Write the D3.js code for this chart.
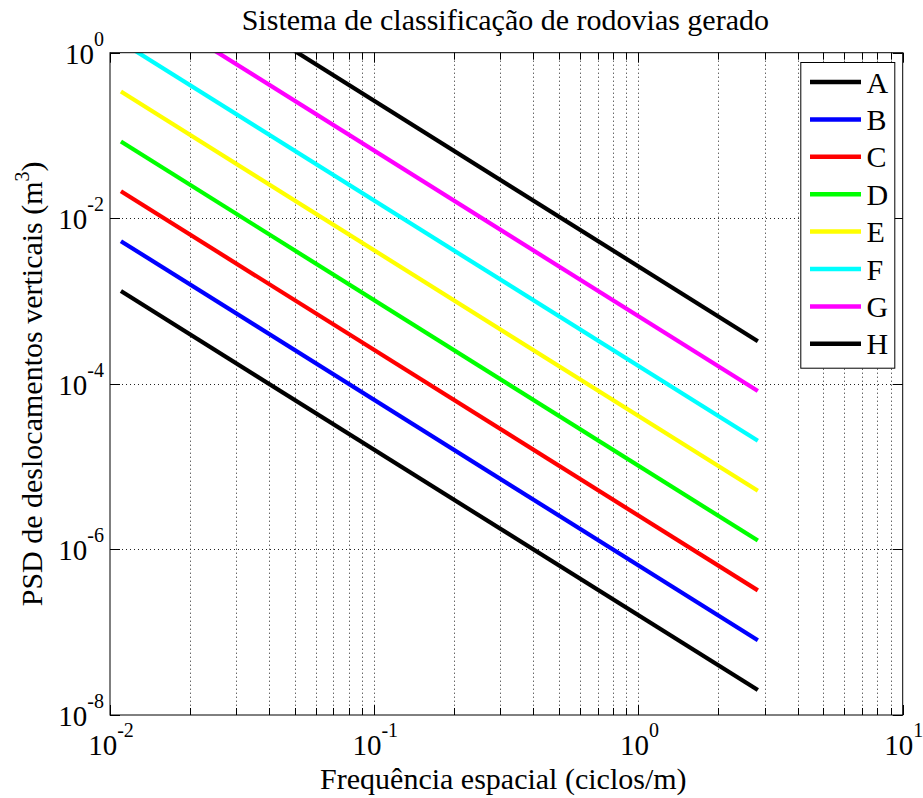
<!DOCTYPE html>
<html>
<head>
<meta charset="utf-8">
<script src="https://cdn.jsdelivr.net/npm/d3@7"></script>
<style>
  html, body { margin: 0; padding: 0; background: #fff; }
</style>
</head>
<body>
<svg id="chart" width="923" height="798" font-family="'Liberation Serif', 'Times New Roman', Times, 'DejaVu Serif', serif"></svg>
<script>
// Road roughness classes (ISO 8608): vertical displacement PSD over spatial frequency
const classes = ["A", "B", "C", "D", "E", "F", "G", "H"];
const classColors = ["#000000", "#0000ff", "#ff0000", "#00ff00", "#ffff00", "#00ffff", "#ff00ff", "#000000"];

// spatial frequency range of every class line (cycles/m)
const freqRange = [0.011, 2.83];

// PSD (m^3) at the start and end of the frequency range, one pair per class
const psdA = [1.32e-3, 2.0e-8];
const psdB = [5.29e-3, 8.0e-8];
const psdC = [2.12e-2, 3.2e-7];
const psdD = [8.46e-2, 1.28e-6];
const psdE = [0.339, 5.11e-6];
const psdF = [1.35, 2.05e-5];
const psdG = [5.42, 8.18e-5];
const psdH = [21.7, 3.27e-4];
const psdSeries = [psdA, psdB, psdC, psdD, psdE, psdF, psdG, psdH];

// axis ticks (powers of ten)
const xTickExponents = [-2, -1, 0, 1];
const yTickExponents = [0, -2, -4, -6, -8];
const minorMultipliers = [2, 3, 4, 5, 6, 7, 8, 9];

const titleText = "Sistema de classificação de rodovias gerado";
const xLabelText = "Frequência espacial (ciclos/m)";
const yLabelText = "PSD de deslocamentos verticais (m";

const svg = d3.select("#chart");
const plot = { left: 110, right: 902.7, top: 52.7, bottom: 715 };
const fontMain = 30, fontTick = 29, fontSup = 20;

const x = d3.scaleLog().domain([1e-2, 1e1]).range([plot.left, plot.right]);
const y = d3.scaleLog().domain([1e-8, 1e0]).range([plot.bottom, plot.top]);

const majorX = xTickExponents.map(e => Math.pow(10, e));
const minorX = [];
xTickExponents.slice(0, -1).forEach(e => minorMultipliers.forEach(m => minorX.push(m * Math.pow(10, e))));
const majorY = yTickExponents.map(e => Math.pow(10, e));

// clip region for the axes interior
svg.append("defs").append("clipPath").attr("id", "plot-clip")
  .append("rect")
  .attr("x", plot.left).attr("y", plot.top)
  .attr("width", plot.right - plot.left).attr("height", plot.bottom - plot.top);

// dotted grid
const grid = svg.append("g").attr("stroke", "#222").attr("stroke-width", 1)
  .attr("stroke-dasharray", "1,3").attr("fill", "none");
grid.selectAll("line.gx").data(majorX.concat(minorX).filter(v => v > 1e-2 && v < 1e1)).join("line")
  .attr("class", "gx")
  .attr("x1", d => Math.round(x(d)) + 0.5).attr("x2", d => Math.round(x(d)) + 0.5)
  .attr("y1", plot.top).attr("y2", plot.bottom);
grid.selectAll("line.gy").data(majorY.filter(v => v > 1e-8 && v < 1)).join("line")
  .attr("class", "gy")
  .attr("y1", d => Math.round(y(d)) + 0.5).attr("y2", d => Math.round(y(d)) + 0.5)
  .attr("x1", plot.left).attr("x2", plot.right);

// class lines
const line = d3.line().x(d => x(d[0])).y(d => y(d[1]));
svg.append("g").attr("clip-path", "url(#plot-clip)")
  .selectAll("path").data(psdSeries).join("path")
  .attr("d", s => line(freqRange.map((f, i) => [f, s[i]])))
  .attr("fill", "none")
  .attr("stroke", (s, i) => classColors[i])
  .attr("stroke-width", 4.2)
  .attr("stroke-linecap", "butt");

// axes frame
svg.append("rect")
  .attr("x", plot.left).attr("y", plot.top)
  .attr("width", plot.right - plot.left).attr("height", plot.bottom - plot.top)
  .attr("fill", "none").attr("stroke", "#000").attr("stroke-width", 1);

// tick marks on all four sides, pointing inward
const ticks = svg.append("g").attr("stroke", "#000").attr("stroke-width", 1);
const majorLen = 10, minorLen = 7;
[[majorX, majorLen], [minorX, minorLen]].forEach(([vals, len]) => {
  vals.forEach(v => {
    const px = Math.round(x(v)) + 0.5;
    ticks.append("line").attr("x1", px).attr("x2", px).attr("y1", plot.bottom).attr("y2", plot.bottom - len);
    ticks.append("line").attr("x1", px).attr("x2", px).attr("y1", plot.top).attr("y2", plot.top + len);
  });
});
majorY.forEach(v => {
  const py = Math.round(y(v)) + 0.5;
  ticks.append("line").attr("y1", py).attr("y2", py).attr("x1", plot.left).attr("x2", plot.left + majorLen);
  ticks.append("line").attr("y1", py).attr("y2", py).attr("x1", plot.right).attr("x2", plot.right - majorLen);
});

// power-of-ten tick labels
function powerLabel(g, exp, px, py, anchor) {
  const t = g.append("text").attr("x", px).attr("y", py).attr("text-anchor", anchor).attr("font-size", fontTick);
  t.append("tspan").text("10");
  t.append("tspan").attr("dy", -18).attr("font-size", fontSup).text(exp);
}
const labels = svg.append("g");
xTickExponents.forEach(e => powerLabel(labels, e, x(Math.pow(10, e)) + 1, plot.bottom + 40, "middle"));
yTickExponents.forEach(e => powerLabel(labels, e, plot.left - 6, y(Math.pow(10, e)) + 11, "end"));

// title and axis titles
svg.append("text").attr("x", (plot.left + plot.right) / 2 - 1).attr("y", 29.5)
  .attr("text-anchor", "middle").attr("font-size", fontMain).text(titleText);
svg.append("text").attr("x", (plot.left + plot.right) / 2 - 3).attr("y", 789)
  .attr("text-anchor", "middle").attr("font-size", fontMain).text(xLabelText);
const yl = svg.append("text")
  .attr("transform", `translate(42,${(plot.top + plot.bottom) / 2}) rotate(-90)`)
  .attr("text-anchor", "middle").attr("font-size", fontMain);
yl.append("tspan").text(yLabelText);
yl.append("tspan").attr("dy", -13).attr("font-size", fontSup).text("3");
yl.append("tspan").attr("dy", 13).text(")");

// legend
const legend = svg.append("g");
const lg = { x: 800.3, y: 62, w: 94, h: 305.7, first: 82, step: 37.4 };
legend.append("rect").attr("x", lg.x + 0.5).attr("y", lg.y + 0.5).attr("width", lg.w).attr("height", lg.h)
  .attr("fill", "#fff").attr("stroke", "#000").attr("stroke-width", 1);
classes.forEach((c, i) => {
  const cy = lg.first + i * lg.step;
  legend.append("line").attr("x1", 810).attr("x2", 861).attr("y1", cy).attr("y2", cy)
    .attr("stroke", classColors[i]).attr("stroke-width", 4.5);
  legend.append("text").attr("x", 866.5).attr("y", cy + 10.5).attr("font-size", fontMain).text(c);
});
</script>
</body>
</html>
